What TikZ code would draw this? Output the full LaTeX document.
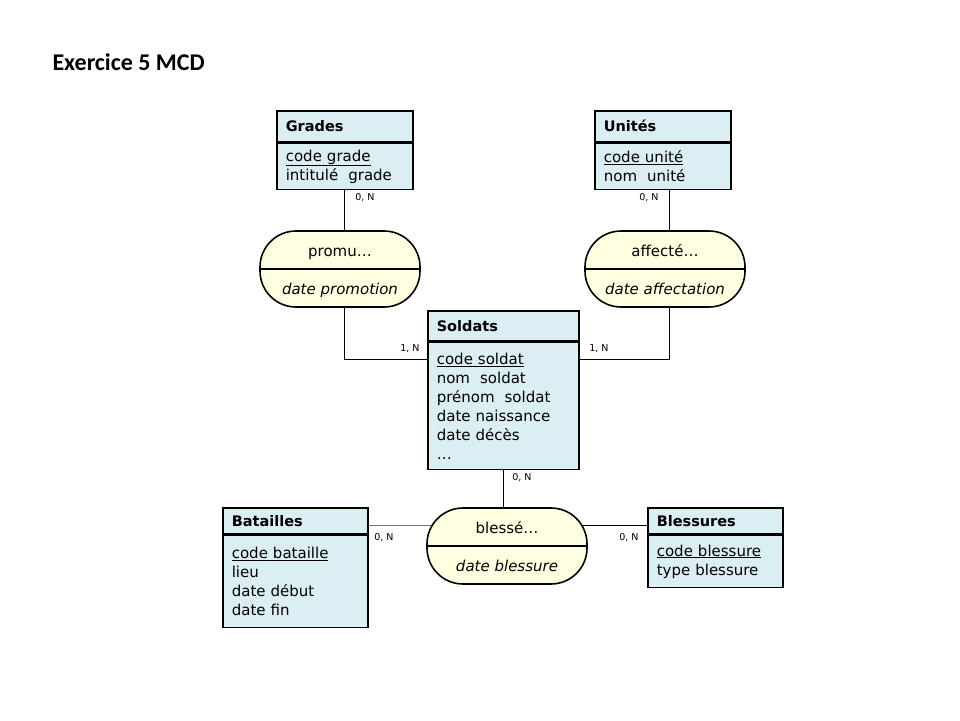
\documentclass[tikz,border=0pt]{standalone}
\usepackage{fontspec}
\setmainfont{DejaVu Sans}
\newfontfamily\titlefont{Carlito}
\usetikzlibrary{positioning,backgrounds}

\definecolor{entite}{RGB}{219,238,243}
\definecolor{assoc}{RGB}{255,255,225}

\begin{document}
\begin{tikzpicture}[x=1pt, y=-1pt,
	entete/.style={draw, line width=1.6pt, fill=entite, anchor=north west, inner xsep=9pt, inner ysep=0pt,
		align=left, font=\fontsize{14.5}{19}\selectfont\bfseries},
	attributs/.style={draw, line width=1.6pt, fill=entite, anchor=north west, inner xsep=9pt, inner ysep=0pt,
		align=left, font=\fontsize{15}{19}\selectfont},
	relation/.style={draw, line width=1.6pt, fill=assoc, rounded corners=36pt, minimum width=160pt,
		minimum height=76pt, inner sep=0pt, align=center, font=\fontsize{15}{19}\selectfont},
	card/.style={font=\fontsize{9.5}{11}\selectfont, inner sep=1pt},
	lien/.style={line width=0.8pt}]
	\useasboundingbox (0,0) rectangle (960,720);

	\node[anchor=west, font=\titlefont\fontsize{24}{28}\selectfont\bfseries] (titre) at (49,62) {Exercice 5 MCD};

	% entites
	\node[entete, text width=118pt, minimum height=31pt] (grades) at (276,110) {Grades};
	\node[attributs, text width=118pt, minimum height=46pt] (grades-attr) at (grades.south west)
		{\underline{code grade}\\intitulé~~grade};
	\node[entete, text width=118pt, minimum height=31pt] (unites) at (594,110) {Unités};
	\node[attributs, text width=118pt, minimum height=46pt] (unites-attr) at (unites.south west)
		{\underline{code unité}\\nom~~unité};
	\node[entete, text width=133pt, minimum height=30pt] (soldats) at (427,310) {Soldats};
	\node[attributs, text width=133pt, minimum height=127pt] (soldats-attr) at (soldats.south west)
		{\underline{code soldat}\\nom~~soldat\\prénom~~soldat\\date naissance\\date décès\\\dots};
	\node[entete, text width=127pt, minimum height=26pt] (bataille) at (222,507) {Batailles};
	\node[attributs, text width=127pt, minimum height=92pt] (bataille-attr) at (bataille.south west)
		{\underline{code bataille}\\lieu\\date début\\date fin};
	\node[entete, text width=117pt, minimum height=26pt] (blessures) at (647,507) {Blessures};
	\node[attributs, text width=117pt, minimum height=52pt] (blessures-attr) at (blessures.south west)
		{\underline{code blessure}\\type blessure};

	% associations
	\node[relation] (promu) at (340,269)
		{\rule{0pt}{17pt}promu\dots\\[19pt]\textit{date promotion}\rule[-4pt]{0pt}{4pt}};
	\node[relation] (affecte) at (665,269)
		{\rule{0pt}{17pt}affecté\dots\\[19pt]\textit{date affectation}\rule[-4pt]{0pt}{4pt}};
	\node[relation] (blesse) at (507,546)
		{\rule{0pt}{17pt}blessé\dots\\[19pt]\textit{date blessure}\rule[-4pt]{0pt}{4pt}};
	\foreach \r in {promu,affecte,blesse}
		\draw[line width=1.6pt] (\r.west) -- (\r.east);

	% liens
	\coordinate (sg) at ([yshift=-18pt]soldats-attr.north west);
	\coordinate (sd) at ([yshift=-18pt]soldats-attr.north east);
	\coordinate (ua) at ([xshift=7pt]unites-attr.south);
	\coordinate (bt) at ([yshift=-18pt]bataille.north east);
	\coordinate (bs) at ([yshift=-18pt]blessures.north west);
	\begin{scope}[on background layer]
		\draw[lien] (grades-attr.south) -- (grades-attr.south |- promu.north);
		\draw[lien] (grades-attr.south |- promu.south) |- (sg);
		\draw[lien] (ua) -- (ua |- affecte.north);
		\draw[lien] (ua |- affecte.south) |- (sd);
		\draw[lien] (soldats-attr.south) -- (soldats-attr.south |- blesse.north);
		\draw[lien, black!55] (bt) -- (bt -| blesse.center);
		\draw[lien] (bs) -- (bs -| blesse.center);
	\end{scope}

	% cardinalites
	\node[card] (c-grades) at (365,198) {0, N};
	\node[card] (c-unites) at (649,198) {0, N};
	\node[card] (c-promu) at (410,349) {1, N};
	\node[card] (c-affecte) at (599,349) {1, N};
	\node[card] (c-soldats) at (522,478) {0, N};
	\node[card] (c-bataille) at (384,538) {0, N};
	\node[card] (c-blessures) at (629,538) {0, N};
\end{tikzpicture}
\end{document}
